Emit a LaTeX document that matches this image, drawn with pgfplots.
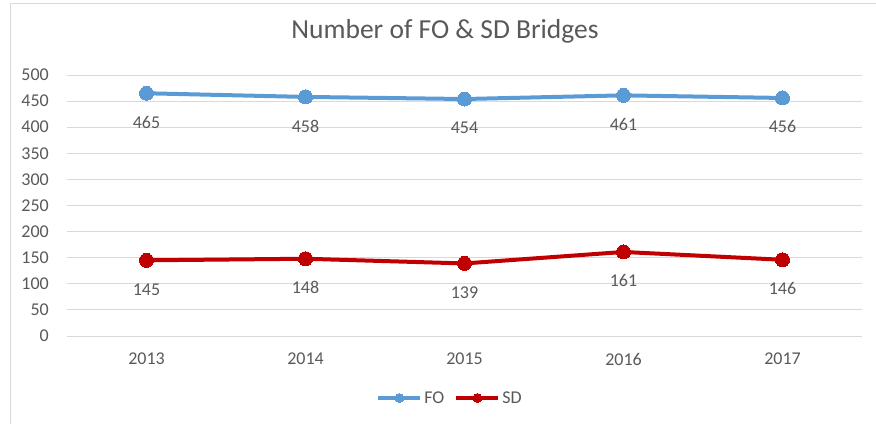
\documentclass[border=0pt]{standalone}
\usepackage{fontspec}
\setmainfont{Carlito}
\usepackage{pgfplots}
\pgfplotsset{compat=1.18}
\definecolor{fo}{HTML}{5B9BD5}
\definecolor{sd}{HTML}{C00000}
\definecolor{txt}{HTML}{595959}
\definecolor{grd}{HTML}{D9D9D9}
\begin{document}
\begin{tikzpicture}
\useasboundingbox (0,0) rectangle (876pt,424pt);
\draw[grd, line width=1pt] (10pt,0pt) -- (10pt,420pt) -- (876pt,420pt);
\begin{axis}[
  at={(67pt,88pt)}, anchor=south west,
  scale only axis, width=795pt, height=261pt,
  xmin=-0.5, xmax=4.5, ymin=0, ymax=500,
  xtick={0,1,2,3,4}, xticklabels={2013,2014,2015,2016,2017},
  ytick={0,50,...,500},
  axis line style={draw=none},
  major tick length=0pt,
  ymajorgrids, grid style={grd, line width=1pt},
  /pgf/number format/assume math mode=true,
  tick label style={font=\fontsize{18}{21}\selectfont, text=txt},
  xticklabel style={anchor=center, yshift=-23pt},
  yticklabel style={anchor=east, inner sep=0pt, xshift=-18pt},
  title={Number of FO \& SD Bridges},
  title style={at={(0.4755,1)}, anchor=center, yshift=38pt, font=\fontsize{27.5}{31}\selectfont, text=txt},
  nodes near coords,
  every node near coord/.append style={anchor=center, yshift=-29pt, font=\fontsize{18}{21}\selectfont, text=txt, /pgf/number format/assume math mode=true},
  legend style={at={(0.4818,-0.2375)}, anchor=center, draw=none, fill=none, legend columns=-1,
    font=\fontsize{18}{21}\selectfont, text=txt,
    /tikz/every even column/.append style={column sep=8pt}},
  legend image code/.code={\draw[mark repeat=2,mark phase=2,#1,mark size=4.5pt] plot coordinates {(0pt,0pt) (21pt,0pt) (42pt,0pt)};},
  clip=false,
]
\addplot[fo, line width=4pt, mark=*, mark size=7pt, mark options={fill=fo, draw=fo, line width=0pt}] coordinates {(0,465) (1,458) (2,454) (3,461) (4,456)};
\addlegendentry{FO}
\addplot[sd, line width=4pt, mark=*, mark size=7pt, mark options={fill=sd, draw=sd, line width=0pt}] coordinates {(0,145) (1,148) (2,139) (3,161) (4,146)};
\addlegendentry{SD}
\end{axis}
\end{tikzpicture}
\end{document}
